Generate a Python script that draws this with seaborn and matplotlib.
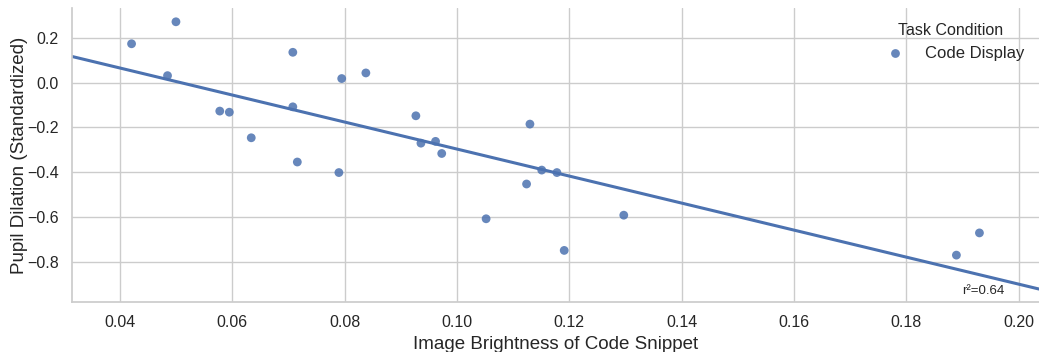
import numpy as np
import pandas as pd
import matplotlib
matplotlib.use("Agg")
import matplotlib.pyplot as plt
import seaborn as sns

# Per-snippet measurements
brightness = [0.0421, 0.0500, 0.0485, 0.0578, 0.0595, 0.0634, 0.0708, 0.0708,
              0.0716, 0.0790, 0.0795, 0.0838, 0.0927, 0.0936, 0.0962, 0.0973,
              0.1130, 0.1151, 0.1178, 0.1124, 0.1052, 0.1191, 0.1297, 0.1889,
              0.1930]
pupil_dilation = [0.173, 0.271, 0.031, -0.127, -0.132, -0.246, 0.135, -0.108,
                  -0.354, -0.401, 0.018, 0.043, -0.148, -0.270, -0.262, -0.316,
                  -0.185, -0.390, -0.401, -0.452, -0.607, -0.748, -0.591, -0.769,
                  -0.670]
condition = ["Code Display"] * len(brightness)
r2_label = "r\u00b2=0.64"

df = pd.DataFrame({
    "Image Brightness of Code Snippet": brightness,
    "Pupil Dilation (Standardized)": pupil_dilation,
    "Task Condition": condition,
})

sns.set_theme(style="whitegrid")
plt.rcParams["font.family"] = ["Liberation Sans", "DejaVu Sans"]
plt.rcParams["axes.unicode_minus"] = True

fig, ax = plt.subplots(figsize=(10.39, 3.52), dpi=100)
fig.subplots_adjust(left=0.0693, right=1.0, bottom=0.142, top=0.977)

blue = "#4C72B0"
ax.set_xlim(0.0315, 0.2036)
ax.set_ylim(-0.978, 0.332)

sns.scatterplot(data=df, x="Image Brightness of Code Snippet",
                y="Pupil Dilation (Standardized)", hue="Task Condition",
                palette=[blue], s=40, alpha=0.85, linewidth=0, ax=ax)
sns.regplot(data=df, x="Image Brightness of Code Snippet",
            y="Pupil Dilation (Standardized)", scatter=False, ci=None,
            truncate=False, color=blue, line_kws={"lw": 2.2}, ax=ax)

ax.set_xlim(0.0315, 0.2036)
ax.set_ylim(-0.978, 0.332)
ax.set_xticks([0.04, 0.06, 0.08, 0.10, 0.12, 0.14, 0.16, 0.18, 0.20])
ax.set_yticks([-0.8, -0.6, -0.4, -0.2, 0.0, 0.2])
ax.tick_params(labelsize=11.5)
ax.set_xlabel("Image Brightness of Code Snippet", fontsize=13.5)
ax.set_ylabel("Pupil Dilation (Standardized)", fontsize=13.5)
ax.yaxis.set_label_coords(-0.0455, 0.5)

sns.despine(ax=ax)

leg = ax.legend(title="Task Condition", loc="upper right", frameon=False,
                fontsize=12, title_fontsize=11.5)

ax.text(0.942, 0.037, r2_label, transform=ax.transAxes, ha="center",
        va="center", fontsize=9.5, color="#262626")

fig.savefig("out.png", dpi=100)
